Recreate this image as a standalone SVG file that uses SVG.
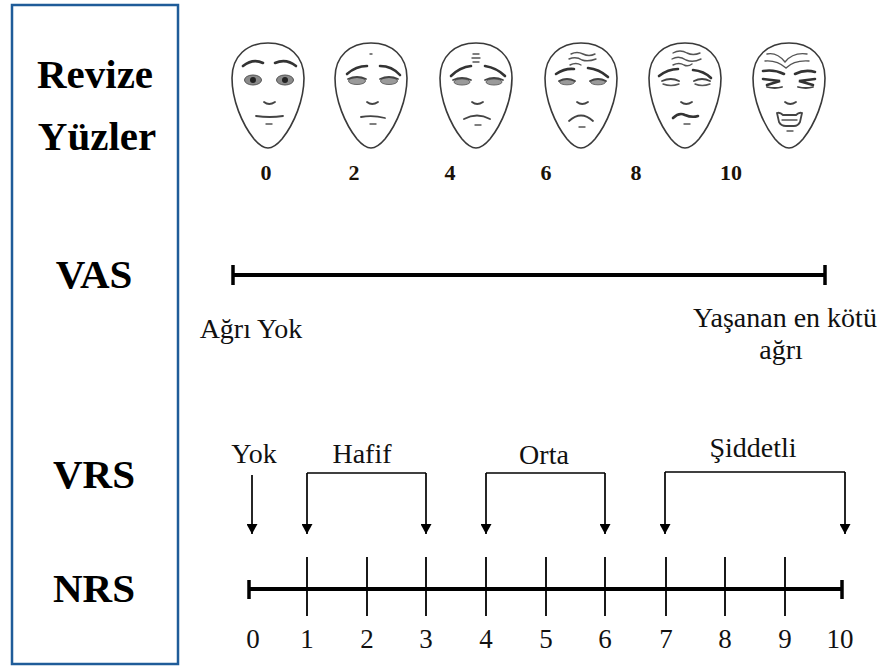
<svg xmlns="http://www.w3.org/2000/svg" width="886" height="666" viewBox="0 0 886 666">
  <style>
    text { font-family: "Liberation Serif", "Times New Roman", serif; }
    .title { font-weight: bold; font-size: 41px; fill: #000; text-anchor: middle; }
    .lbl { font-size: 28px; fill: #111; text-anchor: middle; }
    .num { font-size: 27px; fill: #111; text-anchor: middle; }
    .fnum { font-weight: bold; font-size: 22px; fill: #1a1208; text-anchor: middle; }
    .outline { fill: #fff; stroke: #3a3a3a; stroke-width: 1.6; }
    .brow { fill: none; stroke: #333; stroke-width: 2.6; stroke-linecap: round; }
    .fine { fill: none; stroke: #555; stroke-width: 1.4; stroke-linecap: round; }
    .mid { fill: none; stroke: #444; stroke-width: 1.8; stroke-linecap: round; }
    .scale { stroke: #000; stroke-width: 4; fill: none; }
    .cap { stroke: #000; stroke-width: 3.5; }
    .tick { stroke: #000; stroke-width: 1.8; }
    .bar { stroke: #000; stroke-width: 1.7; fill: none; }
    .arrow { stroke: #000; stroke-width: 1.7; fill: none; marker-end: url(#head); }
  </style>
  <defs>
    <marker id="head" markerUnits="userSpaceOnUse" markerWidth="11" markerHeight="11" refX="10" refY="5.5" orient="auto">
      <path d="M0,0 L10,5.5 L0,11 Z" fill="#000"/>
    </marker>
    <path id="egg" d="M0,-53 C21,-53 36,-40 36,-18 C36,4 26,28 14,43 C8,50 4,52 0,52 C-4,52 -8,50 -14,43 C-26,28 -36,4 -36,-18 C-36,-40 -21,-53 0,-53 Z"/>
  </defs>

  <!-- left column frame -->
  <rect x="12" y="5" width="166" height="659" fill="none" stroke="#1f5c99" stroke-width="2.5"/>

  <g id="row-titles">
    <text class="title" x="95" y="88">Revize</text>
    <text class="title" x="97" y="150">Yüzler</text>
    <text class="title" x="94" y="288">VAS</text>
    <text class="title" x="94" y="488">VRS</text>
    <text class="title" x="94" y="602">NRS</text>
  </g>

  <!-- faces scale -->
  <g id="face-0" transform="translate(268,96)">
    <use href="#egg" class="outline"/>
    <path class="brow" d="M-25,-30 Q-15,-38 -5,-33"/>
    <path class="brow" d="M7,-33 Q18,-38 28,-30"/>
    <ellipse cx="-15" cy="-16" rx="8.5" ry="5" fill="#8a8a8a" stroke="#555" stroke-width="1"/>
    <circle cx="-15" cy="-16" r="3" fill="#222"/>
    <ellipse cx="17" cy="-16" rx="8.5" ry="5" fill="#8a8a8a" stroke="#555" stroke-width="1"/>
    <circle cx="17" cy="-16" r="3" fill="#222"/>
    <path class="mid" d="M-4,6 Q1,10 7,6"/>
    <path class="mid" d="M-12,20 Q2,22 15,20"/>
    <path class="fine" d="M-2,28 L4,28"/>
  </g>
  <g id="face-2" transform="translate(371,96)">
    <use href="#egg" class="outline"/>
    <path class="fine" d="M-1,-42 L1,-42"/>
    <path class="brow" d="M-24,-22 Q-15,-30 -4,-30"/>
    <path class="brow" d="M9,-30 Q21,-30 29,-21"/>
    <ellipse cx="-14" cy="-15" rx="8.5" ry="3.5" fill="#9a9a9a" stroke="#666" stroke-width="1"/>
    <path class="mid" d="M-23,-17 Q-14,-21 -5,-17"/>
    <ellipse cx="18" cy="-15" rx="8.5" ry="3.5" fill="#9a9a9a" stroke="#666" stroke-width="1"/>
    <path class="mid" d="M9,-17 Q18,-21 27,-17"/>
    <path class="mid" d="M-4,6 Q1,10 7,6"/>
    <path class="mid" d="M-10,21 Q2,19 14,22"/>
    <path class="fine" d="M-1,28 L5,28"/>
  </g>
  <g id="face-4" transform="translate(476,96)">
    <use href="#egg" class="outline"/>
    <path class="fine" d="M-3,-42 L3,-42 M-4,-38 L4,-38 M-3,-34 L3,-34"/>
    <path class="brow" d="M-25,-20 Q-16,-29 -5,-30"/>
    <path class="brow" d="M9,-30 Q21,-28 29,-20"/>
    <ellipse cx="-14" cy="-14" rx="8" ry="3" fill="#9a9a9a" stroke="#666" stroke-width="1"/>
    <path class="mid" d="M-23,-16 Q-14,-20 -5,-16"/>
    <ellipse cx="18" cy="-14" rx="8" ry="3" fill="#9a9a9a" stroke="#666" stroke-width="1"/>
    <path class="mid" d="M9,-16 Q18,-20 27,-16"/>
    <path class="mid" d="M-4,6 Q1,10 7,6"/>
    <path class="mid" d="M-12,23 Q1,16 14,23"/>
    <path class="fine" d="M-1,29 L5,29"/>
  </g>
  <g id="face-6" transform="translate(581,96)">
    <use href="#egg" class="outline"/>
    <path class="fine" d="M-10,-42 Q-4,-45 2,-42 Q8,-39 14,-42"/>
    <path class="fine" d="M-12,-37 Q-5,-40 1,-36 Q7,-34 15,-37"/>
    <path class="fine" d="M-11,-31 Q-5,-34 0,-31"/>
    <path class="brow" d="M-25,-22 Q-16,-28 -7,-27"/>
    <path class="brow" d="M7,-28 Q18,-27 27,-19"/>
    <ellipse cx="-14" cy="-14" rx="7.5" ry="2.8" fill="#9a9a9a" stroke="#666" stroke-width="1"/>
    <path class="mid" d="M-22,-15 Q-14,-19 -6,-15"/>
    <ellipse cx="17" cy="-14" rx="7.5" ry="2.8" fill="#9a9a9a" stroke="#666" stroke-width="1"/>
    <path class="mid" d="M9,-15 Q17,-19 25,-15"/>
    <path class="mid" d="M-4,6 Q1,10 7,6"/>
    <path class="mid" d="M-12,25 Q0,14 12,25"/>
    <path class="fine" d="M-2,31 L4,31"/>
  </g>
  <g id="face-8" transform="translate(685,96)">
    <use href="#egg" class="outline"/>
    <path class="fine" d="M-12,-43 Q-5,-47 2,-43 Q8,-40 15,-43"/>
    <path class="fine" d="M-13,-37 Q-6,-41 1,-36 Q8,-33 16,-37"/>
    <path class="fine" d="M-12,-31 Q-6,-34 -1,-31 Q3,-29 7,-32"/>
    <path class="brow" d="M-26,-20 Q-17,-27 -7,-27"/>
    <path class="brow" d="M8,-26 Q19,-25 26,-18"/>
    <path class="mid" d="M-23,-15 Q-14,-19 -6,-15"/>
    <path class="fine" d="M-22,-12 Q-14,-9 -6,-12"/>
    <path class="mid" d="M9,-15 Q17,-19 25,-15"/>
    <path class="fine" d="M10,-12 Q17,-9 25,-12"/>
    <path class="mid" d="M-4,6 Q1,10 7,6"/>
    <path class="brow" d="M-12,22 Q-6,16 0,19 Q7,22 13,20" stroke-width="2.2"/>
    <path class="fine" d="M-1,28 L5,28"/>
  </g>
  <g id="face-10" transform="translate(789,96)">
    <use href="#egg" class="outline"/>
    <path class="fine" d="M-22,-42 Q-12,-44 -4,-34 Q4,-44 18,-42"/>
    <path class="fine" d="M-24,-35 Q-12,-36 -3,-28 Q5,-36 20,-35"/>
    <path class="brow" d="M-26,-25 Q-15,-27 -5,-22"/>
    <path class="brow" d="M6,-22 Q16,-27 26,-24"/>
    <path class="brow" d="M-26,-17 L-9,-15 L-22,-11" stroke-width="2.2"/>
    <path class="mid" d="M-22,-9 Q-14,-7 -7,-9"/>
    <path class="brow" d="M26,-17 L10,-15 L24,-11" stroke-width="2.2"/>
    <path class="mid" d="M9,-9 Q17,-7 24,-9"/>
    <path class="mid" d="M-4,6 Q1,10 7,6"/>
    <path class="mid" d="M-12,17 Q-9,16 -6,19 L7,19 Q10,16 13,17 L11,26 Q9,30 5,30 L-3,30 Q-8,30 -10,26 Z" fill="#fff"/>
    <path class="fine" d="M-7,24 L8,24"/>
    <path class="fine" d="M-2,35 L4,35"/>
  </g>

  <g id="face-values">
    <text class="fnum" x="266" y="180">0</text>
    <text class="fnum" x="354" y="180">2</text>
    <text class="fnum" x="450" y="180">4</text>
    <text class="fnum" x="546" y="180">6</text>
    <text class="fnum" x="636" y="180">8</text>
    <text class="fnum" x="731" y="180">10</text>
  </g>

  <!-- visual analogue scale -->
  <g id="vas">
    <line class="scale" x1="233" y1="275" x2="825" y2="275"/>
    <line class="cap" x1="233" y1="265" x2="233" y2="285"/>
    <line class="cap" x1="825" y1="265" x2="825" y2="285"/>
    <text class="lbl" x="251" y="338">Ağrı Yok</text>
    <text class="lbl" x="785" y="327">Yaşanan en kötü</text>
    <text class="lbl" x="781" y="359">ağrı</text>
  </g>

  <!-- verbal rating categories -->
  <g id="vrs-labels">
    <text class="lbl" x="254" y="463">Yok</text>
    <text class="lbl" x="362" y="463">Hafif</text>
    <text class="lbl" x="544" y="464">Orta</text>
    <text class="lbl" x="753" y="457">Şiddetli</text>
  </g>
  <g id="connectors">
    <path class="arrow" d="M252,475 L252,534"/>
    <path class="bar" d="M307,473 L426,473"/>
    <path class="arrow" d="M307,473 L307,534"/>
    <path class="arrow" d="M426,473 L426,534"/>
    <path class="bar" d="M486,473 L605,473"/>
    <path class="arrow" d="M486,473 L486,534"/>
    <path class="arrow" d="M605,473 L605,534"/>
    <path class="bar" d="M665,472 L845,472"/>
    <path class="arrow" d="M665,472 L665,534"/>
    <path class="arrow" d="M845,472 L845,534"/>
  </g>

  <!-- numeric rating scale -->
  <g id="nrs">
    <line class="scale" x1="249" y1="589" x2="842" y2="589"/>
    <line class="cap" x1="249" y1="580" x2="249" y2="599"/>
    <line class="cap" x1="842" y1="580" x2="842" y2="599"/>
    <g class="tick">
      <line x1="307" y1="557" x2="307" y2="616"/>
      <line x1="367" y1="557" x2="367" y2="616"/>
      <line x1="426" y1="557" x2="426" y2="616"/>
      <line x1="486" y1="557" x2="486" y2="616"/>
      <line x1="546" y1="557" x2="546" y2="616"/>
      <line x1="605" y1="557" x2="605" y2="616"/>
      <line x1="666" y1="557" x2="666" y2="616"/>
      <line x1="725" y1="557" x2="725" y2="616"/>
      <line x1="785" y1="557" x2="785" y2="616"/>
    </g>
    <text class="num" x="253" y="648">0</text>
    <text class="num" x="307" y="648">1</text>
    <text class="num" x="367" y="648">2</text>
    <text class="num" x="426" y="648">3</text>
    <text class="num" x="486" y="648">4</text>
    <text class="num" x="546" y="648">5</text>
    <text class="num" x="605" y="648">6</text>
    <text class="num" x="666" y="648">7</text>
    <text class="num" x="725" y="648">8</text>
    <text class="num" x="785" y="648">9</text>
    <text class="num" x="840" y="648">10</text>
  </g>
</svg>
